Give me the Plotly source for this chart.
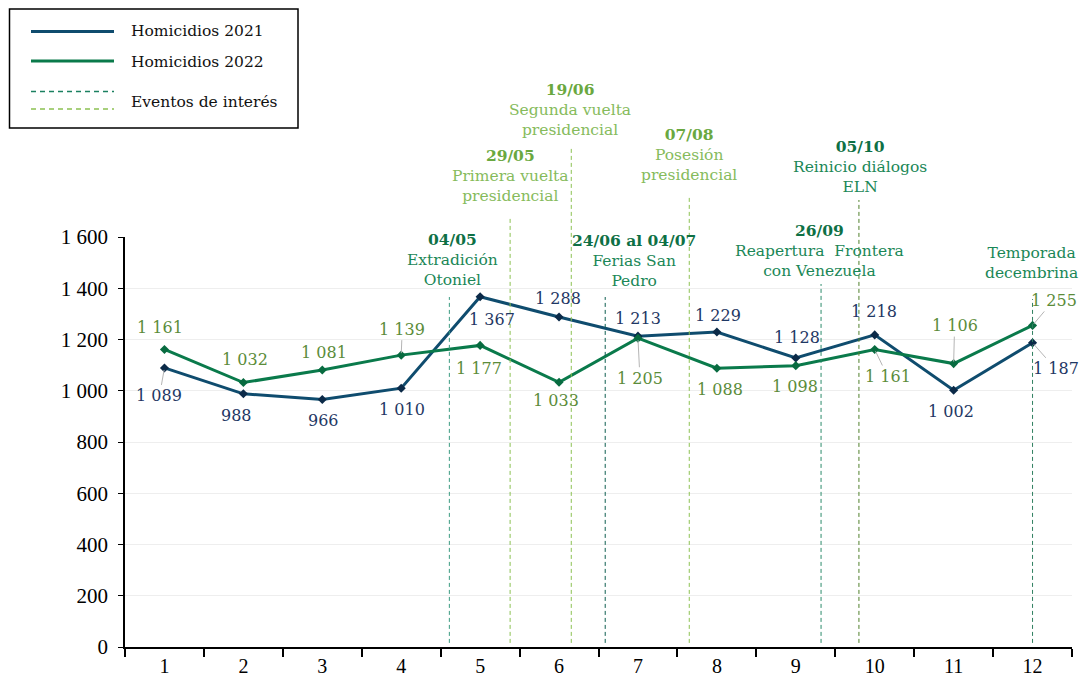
import plotly.graph_objects as go

# datos
meses = [str(m) for m in range(1, 13)]
homicidios_2021 = [1089, 988, 966, 1010, 1367, 1288, 1213, 1229, 1128, 1218, 1002, 1187]
homicidios_2022 = [1161, 1032, 1081, 1139, 1177, 1033, 1205, 1088, 1098, 1161, 1106, 1255]

eventos_fecha = ["04/05", "29/05", "19/06", "24/06 al 04/07", "07/08", "26/09", "05/10", ""]
eventos_texto = [
    ["Extradición", "Otoniel"],
    ["Primera vuelta", "presidencial"],
    ["Segunda vuelta", "presidencial"],
    ["Ferias San", "Pedro"],
    ["Posesión", "presidencial"],
    ["Reapertura\u00a0 Frontera", "con Venezuela"],
    ["Reinicio diálogos", "ELN"],
    ["Temporada", "decembrina"],
]
# posición de cada evento sobre el eje de meses (índice de categoría)
eventos_pos = [3.61, 4.38, 5.155, 5.585, 6.65, 8.32, 8.80, 11.0]

yticks = list(range(0, 1601, 200))

# estilos
FONT = "DejaVu Serif"
TICKFONT = "Liberation Serif"
C21, M21, T21 = "#0f4c6e", "#0b2a48", "#1f3864"
C22, M22, T22 = "#0a7a4b", "#086b40", "#5b8c3a"
DARK_D, DARK_T = "#0e7045", "#1b8757"
LIGHT_D, LIGHT_T = "#6aa840", "#86bb5c"
ev_tono = ["d", "l", "l", "d", "l", "d", "d", "d"]
ev_linea = ["#3a9a80", "#8cc152", "#8cc152", "#0e5e50", "#8cc152", "#2a8a6a", "#4f7f2a", "#2f7f5f"]
ev_top_px = [297, 217, 146, 297, 195, 284, 200, 299]
ev_lab_px = [(452, 291), (510.5, 207), (570, 141), (634, 292), (689, 186), (819.5, 282), (860, 198), (1031, 284)]

# la página añade 8 px de margen alrededor de la figura
OFF = 8
W, H = 1087 - 2 * OFF, 680 - OFF
L, T = 125 - OFF, 237 - OFF
R = W - (1072 - OFF)
B = H - (647 - OFF)
PW, PH = W - L - R, H - T - B


def px(x):
    return (x - OFF - L) / PW


def py(y):
    return (H - B - (y - OFF)) / PH


def fmt(v):
    return f"{v:,}".replace(",", " ")


fig = go.Figure()
fig.add_trace(go.Scatter(x=meses, y=homicidios_2021, mode="lines+markers", name="Homicidios 2021",
                         line=dict(color=C21, width=3), marker=dict(symbol="diamond", size=7, color=M21)))
fig.add_trace(go.Scatter(x=meses, y=homicidios_2022, mode="lines+markers", name="Homicidios 2022",
                         line=dict(color=C22, width=3), marker=dict(symbol="diamond", size=7, color=M22)))

# etiquetas de datos
off21 = [(-5, 28), (-7, 22), (1, 21), (1, 21), (12, 23), (-1, -18), (0, -18), (1, -17), (1, -20), (-1, -23), (-3, 21), (23, 26)]
off22 = [(-4, -22), (2, -23), (2, -17), (1, -26), (-1, 23), (-3, 18), (2, 40), (3, 21), (-1, 21), (13, 27), (1, -38), (21, -25)]
guia21 = [0, 11]
guia22 = [3, 6, 9, 10, 11]
anns = []
for serie, off, guia, col in [(homicidios_2021, off21, guia21, T21), (homicidios_2022, off22, guia22, T22)]:
    for i, v in enumerate(serie):
        anns.append(dict(x=i, y=v, xref="x", yref="y", text=fmt(v), showarrow=True,
                         ax=off[i][0], ay=off[i][1], arrowhead=0, arrowwidth=1, standoff=2,
                         arrowcolor="#b5b5b5" if i in guia else "rgba(0,0,0,0)",
                         font=dict(family=FONT, size=16, color=col)))

# eventos
shapes = []
for k in range(len(eventos_pos)):
    shapes.append(dict(type="line", xref="x", yref="paper", x0=eventos_pos[k], x1=eventos_pos[k],
                       y0=0.01, y1=py(ev_top_px[k]), line=dict(color=ev_linea[k], width=1, dash="4px,3px")))
    dcol, tcol = (DARK_D, DARK_T) if ev_tono[k] == "d" else (LIGHT_D, LIGHT_T)
    lines = []
    if eventos_fecha[k]:
        lines.append(f"<span style='color:{dcol}'><b>{eventos_fecha[k]}</b></span>")
    lines += eventos_texto[k]
    anns.append(dict(x=px(ev_lab_px[k][0]), y=py(ev_lab_px[k][1]), xref="paper", yref="paper",
                     xanchor="center", yanchor="bottom", showarrow=False, text="<br>".join(lines),
                     font=dict(family=FONT, size=15.5, color=tcol)))

# leyenda manual
shapes.append(dict(type="rect", xref="paper", yref="paper", x0=px(9.5), x1=px(298), y0=py(9), y1=py(128),
                   line=dict(color="black", width=1.5), fillcolor="white"))
shapes.append(dict(type="line", xref="paper", yref="paper", x0=px(31), x1=px(114), y0=py(31.5), y1=py(31.5),
                   line=dict(color=C21, width=3)))
shapes.append(dict(type="line", xref="paper", yref="paper", x0=px(31), x1=px(114), y0=py(61), y1=py(61),
                   line=dict(color=C22, width=3)))
shapes.append(dict(type="line", xref="paper", yref="paper", x0=px(31), x1=px(114), y0=py(91.5), y1=py(91.5),
                   line=dict(color="#1b8060", width=1.3, dash="5px,4px")))
shapes.append(dict(type="line", xref="paper", yref="paper", x0=px(31), x1=px(114), y0=py(109), y1=py(109),
                   line=dict(color="#8cc152", width=1.3, dash="5px,4px")))
for txt, yy in [("Homicidios 2021", 30.5), ("Homicidios 2022", 61.5), ("Eventos de interés", 102)]:
    anns.append(dict(x=px(129), y=py(yy), xref="paper", yref="paper", xanchor="left", yanchor="middle",
                     showarrow=False, text=txt, font=dict(family=FONT, size=15.5, color="#111")))

fig.update_layout(
    width=W, height=H, margin=dict(l=L, r=R, t=T, b=B, autoexpand=False),
    plot_bgcolor="white", paper_bgcolor="white", showlegend=False,
    shapes=shapes, annotations=anns,
)
fig.update_xaxes(type="category", range=[-0.5, 11.5], tickson="boundaries", ticks="outside", ticklen=8,
                 tickcolor="black", tickwidth=1.5, showline=True, linecolor="black", linewidth=2,
                 showgrid=False, automargin=False, tickfont=dict(family=TICKFONT, size=20, color="black"))
fig.update_yaxes(range=[0, 1600], tickvals=yticks, ticktext=[fmt(v) for v in yticks], ticks="outside",
                 ticklen=5, tickcolor="black", showline=True, linecolor="black", linewidth=1.5,
                 gridcolor="#eeeeee", zeroline=False, ticklabelstandoff=6, automargin=False,
                 tickfont=dict(family=TICKFONT, size=21, color="black"))

fig.write_html("out.html")
